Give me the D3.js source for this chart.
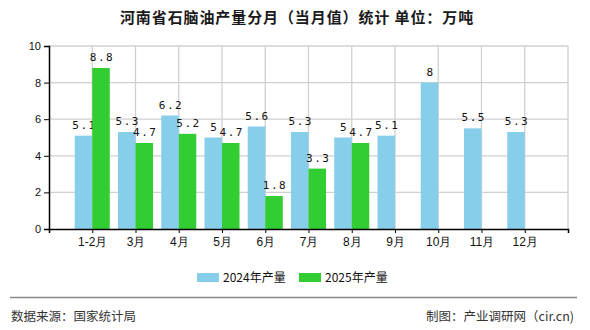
<!DOCTYPE html>
<html><head><meta charset="utf-8">
<script src="https://cdn.jsdelivr.net/npm/d3@7"></script>
<style>body{margin:0;background:#fff;}svg{display:block;font-family:"Noto Sans CJK SC","Noto Sans",sans-serif;}</style>
</head><body>
<script>
const categories = ["1-2月","3月","4月","5月","6月","7月","8月","9月","10月","11月","12月"];
const series2024 = [5.1,5.3,6.2,5,5.6,5.3,5,5.1,8,5.5,5.3];
const series2025 = [8.8,4.7,5.2,4.7,1.8,3.3,4.7,null,null,null,null];
const yTicks = [0,2,4,6,8,10];
const seriesNames = ["2024年产量","2025年产量"];
const colors = ["#87CEEB","#32CD32"];

const W=590,H=330, L=49, R=568, T=46, B=229;
const svg = d3.select("body").append("svg").attr("width",W).attr("height",H);

svg.append("text").attr("x",297).attr("y",23).attr("text-anchor","middle")
  .attr("font-size",15).attr("font-weight","bold").attr("letter-spacing","0.9px").attr("fill","#1a1a1a")
  .text("河南省石脑油产量分月（当月值）统计 单位：万吨");

const x = d3.scalePoint().domain(categories).range([L,R]).padding(1);
const y = d3.scaleLinear().domain([0,10]).range([B,T]);
const bw = x.step()*0.405;

// grid
const g = svg.append("g");
g.selectAll(".hg").data(yTicks.filter(d=>d>0)).enter().append("line")
  .attr("x1",L).attr("x2",R).attr("y1",d=>y(d)).attr("y2",d=>y(d))
  .attr("stroke","#d0d0d0").attr("stroke-width",1.3);
g.selectAll(".vg").data(categories).enter().append("line")
  .attr("x1",d=>x(d)).attr("x2",d=>x(d)).attr("y1",T).attr("y2",B)
  .attr("stroke","#d0d0d0").attr("stroke-width",1.3);
g.append("line").attr("x1",R).attr("x2",R).attr("y1",T).attr("y2",B)
  .attr("stroke","#d0d0d0").attr("stroke-width",1.3);

// bars
const all = [series2024, series2025];
all.forEach((s,si)=>{
  const data = categories.map((c,i)=>({c, v:s[i]})).filter(d=>d.v!=null);
  svg.append("g").selectAll("rect").data(data).enter().append("rect")
    .attr("x",d=>si===0 ? x(d.c)-bw : x(d.c))
    .attr("width",bw)
    .attr("y",d=>y(d.v)).attr("height",d=>B-y(d.v))
    .attr("fill",colors[si]);
  svg.append("g").selectAll("text").data(data).enter().append("text")
    .attr("x",d=>(si===0 ? x(d.c)-bw/2 : x(d.c)+bw/2)+1)
    .attr("y",d=>y(d.v)-7)
    .attr("text-anchor","middle").attr("font-size",11).attr("letter-spacing","1.5px")
    .attr("font-family","'DejaVu Sans Mono','Liberation Mono',monospace")
    .attr("fill","#111").text(d=>d.v);
});

// axes
const yAxis = d3.axisLeft(y).tickValues(yTicks).tickSize(5).tickPadding(3);
const ya = svg.append("g").attr("transform",`translate(${L},0)`).call(yAxis);
ya.select(".domain").attr("stroke","#000").attr("stroke-width",1.5);
ya.selectAll("text").attr("font-size",11).attr("fill","#111").attr("font-family","'Liberation Sans',sans-serif");

const xAxis = d3.axisBottom(x).tickSize(4).tickPadding(4).tickSizeOuter(4);
const xa = svg.append("g").attr("transform",`translate(0,${B})`).call(xAxis);
xa.select(".domain").attr("stroke","#000").attr("stroke-width",1.5);
xa.selectAll("text").attr("font-size",12).attr("fill","#111");

// legend
const leg = [{x:197},{x:299}];
seriesNames.forEach((n,i)=>{
  svg.append("rect").attr("x",leg[i].x).attr("y",273).attr("width",22).attr("height",9).attr("fill",colors[i]);
  svg.append("text").attr("x",leg[i].x+26).attr("y",282).attr("font-size",12).attr("fill","#111").text(n);
});

// footer
svg.append("line").attr("x1",10).attr("x2",577).attr("y1",297.5).attr("y2",297.5).attr("stroke","#888").attr("stroke-width",1.5);
svg.append("text").attr("x",11).attr("y",321).attr("font-size",12.5).attr("fill","#333").text("数据来源：国家统计局");
svg.append("text").attr("x",574).attr("y",321).attr("text-anchor","end").attr("font-size",12.5).attr("fill","#333").text("制图：产业调研网（cir.cn)");
</script>
</body></html>
